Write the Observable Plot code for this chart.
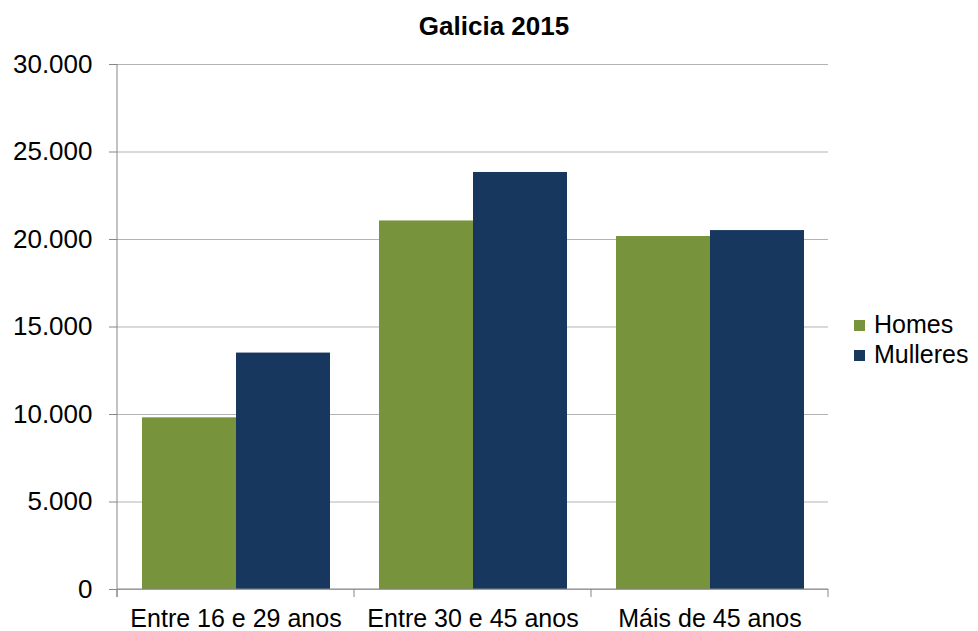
<!DOCTYPE html>
<html>
<head>
<meta charset="utf-8">
<script src="https://cdn.jsdelivr.net/npm/d3@7"></script>
<script src="https://cdn.jsdelivr.net/npm/@observablehq/plot@0.6"></script>
<style>
  body { margin: 0; background: #fff; font-family: "Liberation Sans", Arial, sans-serif; }
  #wrap { position: relative; width: 978px; height: 631px; overflow: hidden; }
  #title { position: absolute; top: 13px; left: 494px; transform: translateX(-50%); font-weight: bold; font-size: 26px; line-height: 26px; white-space: nowrap; color: #000; }
  #legend { position: absolute; left: 854px; top: 309px; font-size: 25px; line-height: 30px; color: #000; }
  #legend .row { display: flex; align-items: center; white-space: nowrap; }
  #legend .sw { width: 11px; height: 11px; margin-right: 9px; margin-top: 2px; }
  #chart { position: absolute; left: 0; top: 0; }
</style>
</head>
<body>
<div id="wrap">
  <div id="chart"></div>
  <div id="title">Galicia 2015</div>
  <div id="legend"></div>
</div>
<script>
const groups = ["Entre 16 e 29 anos", "Entre 30 e 45 anos", "Máis de 45 anos"];
const series = ["Homes", "Mulleres"];
const homes = [9810, 21060, 20170];
const mulleres = [13510, 23830, 20510];
const seriesColors = ["#77933c", "#17375e"];
const yTicks = [0, 5000, 10000, 15000, 20000, 25000, 30000];

const values = {Homes: homes, Mulleres: mulleres};
const data = groups.flatMap((g, i) => series.map(s => ({group: g, series: s, value: values[s][i]})));
const fmt = d => d3.format(",")(d).replace(/,/g, ".");

const axisColor = "#868686";

const chart = Plot.plot({
  width: 978,
  height: 631,
  marginTop: 64,
  marginBottom: 42,
  marginLeft: 116,
  marginRight: 149,
  style: {fontFamily: "'Liberation Sans', Arial, sans-serif", fontSize: "25px", color: "#000", background: "transparent", overflow: "visible"},
  fx: {domain: groups, padding: 0, label: null},
  x: {domain: series, paddingInner: 0, paddingOuter: 0.25, axis: null},
  y: {domain: [0, 30000], label: null},
  color: {domain: series, range: seriesColors},
  marks: [
    Plot.gridY(yTicks, {stroke: "#b3b3b3", strokeOpacity: 1}),
    Plot.barY(data, {fx: "group", x: "series", y: "value", fill: "series"}),
    Plot.axisY(yTicks, {tickFormat: fmt, tickSize: 8, tickPadding: 17, stroke: axisColor, fill: "#000", label: null, fontSize: 26}),
    Plot.axisFx({anchor: "bottom", tickSize: 0, tickPadding: 20, label: null, fill: "#000"}),
    Plot.frame({
      facet: "super",
      stroke: "none",
      render(index, scales, vals, dims) {
        const {width, height, marginLeft, marginRight, marginTop, marginBottom} = dims;
        const y0 = scales.y ? scales.y(0) : height - marginBottom;
        const yTop = scales.y ? scales.y(30000) : marginTop;
        const fx = scales.fx;
        let edges;
        if (fx && typeof fx.bandwidth === "function") {
          edges = groups.map(g => fx(g));
          edges.push(fx(groups[groups.length - 1]) + fx.bandwidth());
        } else {
          const w = (width - marginLeft - marginRight) / groups.length;
          edges = d3.range(groups.length + 1).map(i => marginLeft + i * w);
        }
        const g = d3.create("svg:g").attr("stroke", axisColor).attr("stroke-width", 1).attr("fill", "none");
        g.append("line").attr("x1", edges[0]).attr("x2", edges[0]).attr("y1", yTop).attr("y2", y0 + 8);
        g.append("line").attr("x1", edges[0]).attr("x2", edges[edges.length - 1]).attr("y1", y0).attr("y2", y0);
        for (const x of edges) {
          g.append("line").attr("x1", x).attr("x2", x).attr("y1", y0).attr("y2", y0 + 8);
        }
        return g.node();
      }
    })
  ]
});
document.getElementById("chart").appendChild(chart);

const legend = document.getElementById("legend");
series.forEach((s, i) => {
  const row = document.createElement("div");
  row.className = "row";
  const sw = document.createElement("span");
  sw.className = "sw";
  sw.style.background = seriesColors[i];
  const t = document.createElement("span");
  t.textContent = s;
  row.appendChild(sw);
  row.appendChild(t);
  legend.appendChild(row);
});
</script>
</body>
</html>
